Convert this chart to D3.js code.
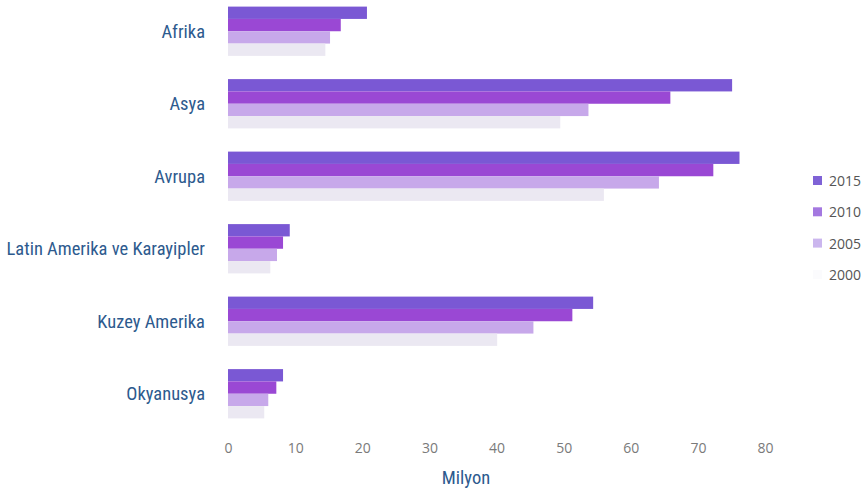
<!DOCTYPE html>
<html><head><meta charset="utf-8">
<script src="https://cdn.jsdelivr.net/npm/d3@7/dist/d3.min.js"></script>
<style>body{margin:0;background:#fff}svg{display:block}</style>
</head><body>
<svg id="c" width="867" height="493"></svg>
<script>
const categories = ["Afrika","Asya","Avrupa","Latin Amerika ve Karayipler","Kuzey Amerika","Okyanusya"];
const years = ["2015","2010","2005","2000"];
const v2015 = [20.7, 75.1, 76.2, 9.2, 54.4, 8.2];
const v2010 = [16.8, 65.9, 72.3, 8.2, 51.3, 7.2];
const v2005 = [15.2, 53.7, 64.2, 7.3, 45.5, 6.0];
const v2000 = [14.5, 49.5, 56.0, 6.3, 40.1, 5.4];
const ticks = [0,10,20,30,40,50,60,70,80];
const colors = ["#7a58d4","#9a48d4","#c7a8ea","#ebe8f2"];
const legendColors = ["#7f62d6","#a478e0","#cbb6ee","#fbfbfd"];

const series = [v2015, v2010, v2005, v2000];
const svg = d3.select("#c");
const x = d3.scaleLinear().domain([0,80]).range([228,765]);
const y = d3.scaleBand().domain(categories).range([-5,430]).paddingInner(0.32).paddingOuter(0.16);
const ySub = d3.scaleBand().domain(years).range([0, y.bandwidth()]);

const condensed = "'Liberation Sans Narrow','Roboto Condensed','Arial Narrow',sans-serif";

categories.forEach((c,i)=>{
  const g = svg.append("g").attr("transform",`translate(0,${y(c)})`);
  years.forEach((yr,j)=>{
    g.append("rect").attr("x",x(0)).attr("y",ySub(yr))
      .attr("width",x(series[j][i])-x(0)).attr("height",ySub.bandwidth())
      .attr("fill",colors[j]);
  });
  svg.append("text").attr("x",205).attr("y",y(c)+y.bandwidth()/2).attr("dy","0.35em")
    .attr("text-anchor","end").attr("font-family",condensed).attr("font-size",18.5)
    .attr("fill","#2d5a8e").text(c);
});

const axis = d3.axisBottom(x).tickValues(ticks).tickSize(0).tickPadding(0);
const ag = svg.append("g").attr("transform","translate(0,443)").call(axis);
ag.select(".domain").remove();
ag.selectAll("text").attr("font-family","'Open Sans',sans-serif").attr("font-size",14).attr("fill","#7a7a7a");

svg.append("text").attr("x",466).attr("y",484).attr("text-anchor","middle")
  .attr("font-family",condensed).attr("font-size",18.5).attr("fill","#2d5a8e").text("Milyon");

years.forEach((yr,j)=>{
  const ly = 181 + j*31.3;
  svg.append("rect").attr("x",813).attr("y",ly-5).attr("width",9).attr("height",9).attr("fill",legendColors[j]);
  svg.append("text").attr("x",829).attr("y",ly).attr("dy","0.35em")
    .attr("font-family","'Open Sans',sans-serif").attr("font-size",14).attr("fill","#555").text(yr);
});
</script>
</body></html>
